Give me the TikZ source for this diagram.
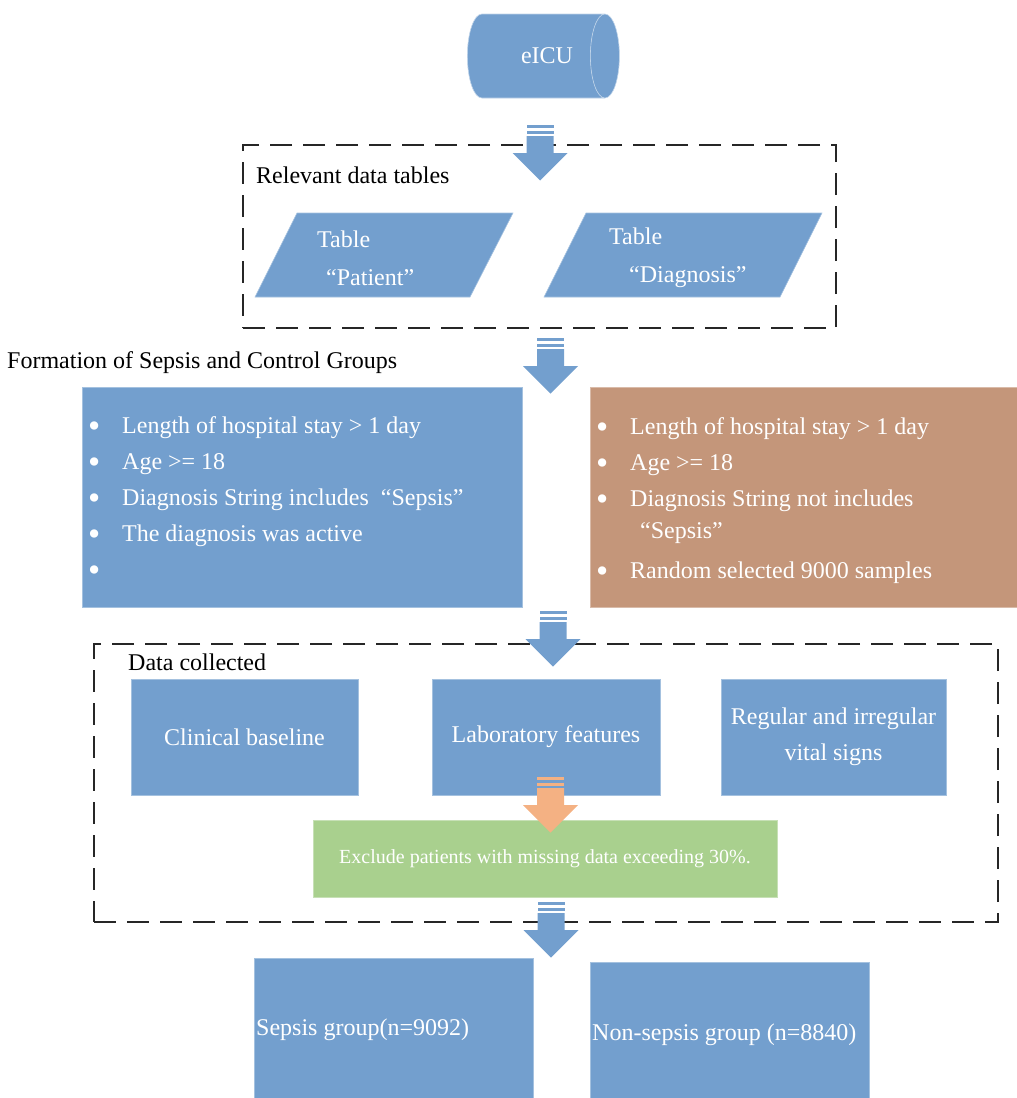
\documentclass[tikz,border=0pt]{standalone}
\usepackage{fontspec}
\usepackage{graphicx}
\setmainfont{Liberation Serif}
\usetikzlibrary{shapes.geometric}
\definecolor{flblue}{RGB}{115,159,206}
\definecolor{flbrown}{RGB}{196,150,122}
\definecolor{flgreen}{RGB}{169,208,142}
\definecolor{florange}{RGB}{244,177,131}
\newcommand{\flbul}{\makebox[34pt][l]{\raisebox{-0.17em}{\scalebox{1.45}{\textbullet}}}}
\tikzset{
  flbox/.style={fill=flblue, draw=white!35!flblue, line width=0.6pt, inner sep=0pt, text=white},
  flpara/.style={fill=flblue, draw=white!35!flblue, line width=0.6pt},
  fldash/.style={draw=black!85, line width=2.8pt, dash pattern=on 22pt off 11pt, inner sep=0pt},
  fltext/.style={inner sep=0pt, text=white, font=\fontsize{24}{36}\selectfont, align=left},
  flhead/.style={inner sep=0pt, text=black, font=\fontsize{24}{28}\selectfont},
  pics/blkarrow/.style={code={
    \fill (-13.5,0) rectangle (13.5,3);
    \fill (-13.5,5.5) rectangle (13.5,8.5);
    \fill (-13.5,11) -- (13.5,11) -- (13.5,28) -- (27.5,28) -- (0,55.5)
      -- (-27.5,28) -- (-13.5,28) -- cycle;
  }},
}

\begin{document}
\begin{tikzpicture}[x=1pt, y=-1pt]
\useasboundingbox (0,0) rectangle (1017,1098);
% source database
\node[cylinder, shape border rotate=0, aspect=1.8, cylinder uses custom fill,
  cylinder body fill=flblue, cylinder end fill=flblue, draw=white!55!flblue, line width=0.6pt,
  minimum height=152pt, minimum width=84pt, inner sep=0pt,
  font=\fontsize{24}{28}\selectfont] (eicu) at (536,56) {\phantom{eICU}};
\node[fltext] (eiculbl) at (547,56) {eICU};
% data tables
\node[fldash, minimum width=593pt, minimum height=183pt] (tables) at (539.5,236.5) {};
\node[flhead, anchor=west] (tableshd) at (256,175) {Relevant data tables};
\fill[flpara] (255,297) -- (297,213) -- (513,213) -- (470,297) -- cycle;
\fill[flpara] (544,297) -- (586,213) -- (822,213) -- (780,297) -- cycle;
\node[fltext, font=\fontsize{24}{38}\selectfont, anchor=west] (patient) at (317,258)
  {Table\\[0pt]\hspace{9pt}“Patient”};
\node[fltext, font=\fontsize{24}{38}\selectfont, anchor=west] (diagnosis) at (609,258)
  {Table\\[0pt]\hspace{20pt}“Diagnosis”};
\pic[fill=flblue] at (540,125) {blkarrow};
% group criteria
\node[flhead, anchor=west] (grouphd) at (7,363) {Formation of Sepsis and Control Groups};
\node[flbox, minimum width=440pt, minimum height=220pt] (sepsisbox) at (302,497) {};
\node[flbox, fill=flbrown, draw=white!35!flbrown, minimum width=427pt, minimum height=220pt]
  (controlbox) at (803.5,497) {};
\node[fltext, anchor=west] (sepsisitems) at (88,499) {%
  \flbul Length of hospital stay > 1 day\\
  \flbul Age >= 18\\
  \flbul Diagnosis String includes \ “Sepsis”\\
  \flbul The diagnosis was active\\
  \flbul};
\node[fltext, anchor=west] (controlitems) at (596,501) {%
  \flbul Length of hospital stay > 1 day\\
  \flbul Age >= 18\\
  \flbul Diagnosis String not includes\\[-4pt]
  \makebox[34pt][l]{}\hspace{10pt}“Sepsis”\\[4pt]
  \flbul Random selected 9000 samples};
\pic[fill=flblue] at (550.5,338) {blkarrow};
% collected data
\node[fldash, minimum width=904pt, minimum height=278pt] (collected) at (546,783) {};
\node[flhead, anchor=west] (collectedhd) at (128,662) {Data collected};
\node[flbox, minimum width=227pt, minimum height=116pt, font=\fontsize{24}{28}\selectfont]
  (clinical) at (244.5,737) {Clinical baseline};
\node[flbox, minimum width=228pt, minimum height=116pt, font=\fontsize{24}{28}\selectfont]
  (labfeat) at (546,737) {Laboratory features};
\node[flbox, minimum width=225pt, minimum height=116pt, align=center,
  font=\fontsize{24}{36}\selectfont] (vitals) at (833.5,737) {Regular and irregular\\vital signs};
\pic[fill=flblue] at (553,611) {blkarrow};
\node[flbox, fill=flgreen, draw=white!35!flgreen, minimum width=464pt, minimum height=77pt,
  font=\fontsize{20}{24}\selectfont] (exclude) at (545,858.5)
  {Exclude patients with missing data exceeding 30\%.};
\pic[fill=florange] at (550.5,777) {blkarrow};
% resulting groups
\node[flbox, minimum width=279pt, minimum height=140pt] (sepsisgrp) at (393.5,1028) {};
\node[flbox, minimum width=279pt, minimum height=137pt] (nonsepsisgrp) at (729.5,1030.5) {};
\node[fltext, anchor=west] (sepsislbl) at (256,1030) {Sepsis group(n=9092)};
\node[fltext, anchor=west] (nonsepsislbl) at (592,1035) {Non-sepsis group (n=8840)};
\pic[fill=flblue] at (551,902) {blkarrow};
\end{tikzpicture}
\end{document}
